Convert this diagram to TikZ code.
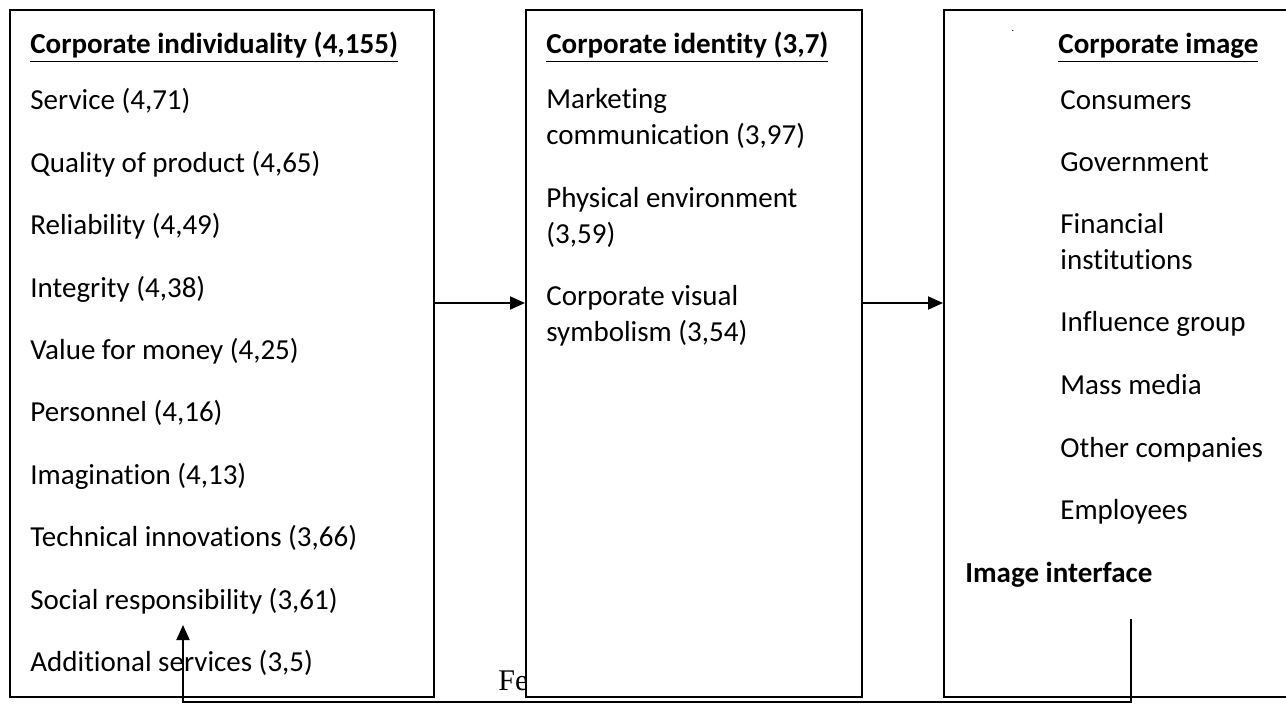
\documentclass[tikz,border=0pt]{standalone}
\usepackage{fontspec}
\setmainfont{Carlito}[Ligatures=NoCommon]
\newfontfamily\feedfont{Liberation Serif}
\usetikzlibrary{arrows.meta}

\tikzset{
  panel/.style={draw, line width=1.2pt, fill=white, anchor=north west,
    inner sep=0pt, minimum height=343.5pt},
  item/.style={anchor=base west, inner sep=0pt, align=left,
    font=\fontsize{14.5}{18}\selectfont},
  head/.style={item, font=\fontsize{14.5}{18}\selectfont\bfseries},
  flow/.style={line width=1pt, -{Triangle[length=7.5pt,width=6.5pt]}}
}

\begin{document}
\begin{tikzpicture}[x=0.5pt, y=-0.5pt]
\useasboundingbox (0,0) rectangle (1286,705);
\clip (0,0) rectangle (1286,705);

% The label that the middle panel covers
\node[anchor=base west, inner sep=0pt, font=\feedfont\fontsize{15}{18}\selectfont] (fb) at (498,690) {Fe};

% The panels
\node[panel, minimum width=212pt] (indiv) at (9,9) {};
\node[panel, minimum width=168pt] (ident) at (525,9) {};
\node[panel, minimum width=180pt] (image) at (943,9) {};

% Corporate individuality
\node[head] (indivhead) at (30,54) {\underline{Corporate individuality (4,155)}};
\foreach \txt [count=\i from 0] in {{Service (4,71)},{Quality of product (4,65)},
    {Reliability (4,49)},{Integrity (4,38)},{Value for money (4,25)},
    {Personnel (4,16)},{Imagination (4,13)},{Technical innovations (3,66)},
    {Social responsibility (3,61)},{Additional services (3,5)}}
  \node[item] (indiv\i) at (30,110+62.4*\i) {\txt};

% Corporate identity (multi-line nodes sit on their last line)
\node[head] (identhead) at (546,54) {\underline{Corporate identity (3,7)}};
\node[item] (ident1) at (546,145) {Marketing\\communication (3,97)};
\node[item] (ident2) at (546,244) {Physical environment\\(3,59)};
\node[item] (ident3) at (546,342) {Corporate visual\\symbolism (3,54)};

% Corporate image
\node[inner sep=0pt, font=\fontsize{5}{6}\selectfont] (dot) at (1013,31) {.};
\node[head] (imagehead) at (1058,54) {\underline{Corporate image}};
\node[item] (image1) at (1060,110) {Consumers};
\node[item] (image2) at (1060,172) {Government};
\node[item] (image3) at (1060,270) {Financial\\institutions};
\node[item] (image4) at (1060,332) {Influence group};
\node[item] (image5) at (1060,395) {Mass media};
\node[item] (image6) at (1060,458) {Other companies};
\node[item] (image7) at (1060,520) {Employees};
\node[head] (iface) at (965,582) {Image interface};

% The arrows
\coordinate (midline) at (0,303);
\draw[flow] (indiv.east |- midline) -- (ident.west |- midline);
\draw[flow] (ident.east |- midline) -- (image.west |- midline);

% Feedback loop
\coordinate (fbtop) at (1131,619);
\coordinate (fbtip) at (183,625);
\coordinate (fbbase) at (0,702);
\draw[flow] (fbtop) -- (fbtop |- fbbase) -- (fbtip |- fbbase) -- (fbtip);
\end{tikzpicture}
\end{document}
